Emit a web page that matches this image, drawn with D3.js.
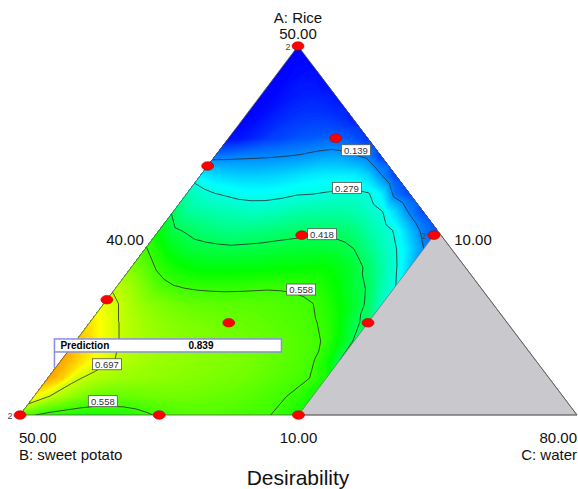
<!DOCTYPE html>
<html>
<head>
<meta charset="utf-8">
<script src="https://cdnjs.cloudflare.com/ajax/libs/d3/7.8.5/d3.min.js"></script>
<style>
  body { margin: 0; background: #fff; }
  text { font-family: "Liberation Sans", Arial, sans-serif; }
</style>
</head>
<body>
<div class="chart"></div>
<script>
// Grid rows = rice level (A, %), grid columns = water level (C, %)
// sweet potato (B) is the rest: B = 100 - A - C
var riceLevels = [10, 12, 14, 16, 18, 20, 22, 24, 26, 28, 30, 32, 34, 36, 38, 40, 42, 44, 46, 48, 50];
var waterLevels = [40, 41, 42, 43, 44, 45, 46, 47, 48, 49, 50, 51, 52, 53, 54, 55, 56, 57, 58, 59, 60];

// desirability, one row per rice level (bottom row first)
// rows above A=30 stop at the right edge of the triangle
var desirabilityGrid = [
  [0.60, 0.56, 0.54, 0.53, 0.525, 0.52, 0.52, 0.525, 0.535, 0.55, 0.565, 0.575, 0.58, 0.58, 0.58, 0.575, 0.57, 0.565, 0.558, 0.54, 0.52],
  [0.76, 0.70, 0.665, 0.635, 0.61, 0.60, 0.60, 0.60, 0.605, 0.61, 0.61, 0.61, 0.605, 0.60, 0.595, 0.59, 0.58, 0.57, 0.56, 0.545, 0.51],
  [0.84, 0.80, 0.71, 0.68, 0.665, 0.655, 0.65, 0.645, 0.64, 0.635, 0.63, 0.625, 0.62, 0.615, 0.61, 0.60, 0.59, 0.58, 0.57, 0.555, 0.52],
  [0.84, 0.80, 0.76, 0.73, 0.69, 0.67, 0.66, 0.65, 0.645, 0.64, 0.635, 0.63, 0.625, 0.62, 0.61, 0.60, 0.59, 0.58, 0.565, 0.52, 0.418],
  [0.82, 0.78, 0.74, 0.70, 0.675, 0.66, 0.65, 0.64, 0.63, 0.625, 0.62, 0.615, 0.61, 0.605, 0.60, 0.59, 0.58, 0.57, 0.55, 0.49, 0.41],
  [0.78, 0.74, 0.70, 0.675, 0.655, 0.64, 0.63, 0.62, 0.615, 0.61, 0.605, 0.60, 0.595, 0.59, 0.58, 0.575, 0.565, 0.545, 0.50, 0.43, 0.40],
  [0.73, 0.70, 0.665, 0.64, 0.625, 0.61, 0.60, 0.595, 0.59, 0.588, 0.585, 0.585, 0.58, 0.575, 0.57, 0.56, 0.535, 0.50, 0.455, 0.405, 0.30],
  [0.68, 0.654, 0.617, 0.58, 0.56, 0.55, 0.545, 0.543, 0.543, 0.545, 0.548, 0.55, 0.55, 0.548, 0.54, 0.52, 0.49, 0.445, 0.41, 0.33, 0.279],
  [0.623, 0.59, 0.545, 0.518, 0.50, 0.49, 0.487, 0.485, 0.487, 0.49, 0.492, 0.497, 0.496, 0.50, 0.50, 0.48, 0.45, 0.40, 0.34, 0.285, 0.20],
  [0.565, 0.52, 0.475, 0.45, 0.44, 0.435, 0.43, 0.433, 0.436, 0.44, 0.446, 0.45, 0.45, 0.45, 0.44, 0.418, 0.37, 0.325, 0.283, 0.215, 0.14],
  [0.49, 0.43, 0.41, 0.39, 0.38, 0.37, 0.37, 0.375, 0.38, 0.39, 0.395, 0.40, 0.40, 0.395, 0.38, 0.34, 0.31, 0.27, 0.19, 0.12, 0.08],
  [0.41, 0.35, 0.34, 0.332, 0.322, 0.317, 0.31, 0.317, 0.326, 0.335, 0.338, 0.34, 0.34, 0.33, 0.31, 0.285, 0.21, 0.13, 0.07],
  [0.336, 0.30, 0.28, 0.27, 0.26, 0.255, 0.26, 0.265, 0.275, 0.277, 0.283, 0.29, 0.295, 0.285, 0.235, 0.11, 0.07],
  [0.235, 0.215, 0.205, 0.20, 0.20, 0.205, 0.21, 0.22, 0.23, 0.235, 0.238, 0.235, 0.21, 0.139, 0.06],
  [0.12, 0.125, 0.13, 0.133, 0.136, 0.14, 0.145, 0.155, 0.165, 0.165, 0.148, 0.13, 0.06],
  [0.01, 0.02, 0.04, 0.06, 0.07, 0.085, 0.09, 0.10, 0.10, 0.08, 0.05],
  [0.0, 0.01, 0.03, 0.045, 0.055, 0.06, 0.06, 0.05, 0.03],
  [0.0, 0.005, 0.02, 0.035, 0.04, 0.035, 0.02],
  [0.0, 0.005, 0.02, 0.02, 0.01],
  [0.0, 0.005, 0.005],
  [0.0]
];

var contourLevels = [0.139, 0.279, 0.418, 0.558, 0.697];

// design points (A and C in %, B is the rest) and replicate counts
var riceDesign  = [50, 40, 37, 29.5, 29.5, 22.5, 20, 20, 10, 10, 10];
var waterDesign = [40, 47.7, 40, 50.5, 60, 40, 50, 60, 40, 50, 60];
var designReps  = [2, 1, 1, 1, 2, 1, 1, 1, 2, 1, 1];

// flagged prediction
var predictionRice = 15.1;
var predictionWater = 40;
var predictionValue = 0.839;

//Define physical space of chart
var svgWidth = 578;
var svgHeight = 489;

var svg = d3.select(".chart").append("svg")
  .attr("width", svgWidth)
  .attr("height", svgHeight);

// ternary scales: real % -> pseudo component -> pixel
var aScale = d3.scaleLinear().domain([10, 50]).range([0, 1]);
var cScale = d3.scaleLinear().domain([40, 80]).range([0, 1]);
var yScale = d3.scaleLinear().domain([0, 1]).range([415, 46]);
var xStart = d3.scaleLinear().domain([0, 1]).range([20, 298]);
var xSpan = d3.scaleLinear().domain([0, 1]).range([0, 557]);

function project(rice, water) {
  var a = aScale(rice), c = cScale(water);
  return [xStart(a) + xSpan(c), yScale(a)];
}

// grid index -> real %
var riceIndex = d3.scaleLinear().domain([0, riceLevels.length - 1]).range([riceLevels[0], riceLevels[riceLevels.length - 1]]);
var waterIndex = d3.scaleLinear().domain([0, waterLevels.length - 1]).range([waterLevels[0], waterLevels[waterLevels.length - 1]]);

var nx = waterLevels.length, ny = riceLevels.length;
var values = [];
desirabilityGrid.forEach(function(row) {
  for (var i = 0; i < nx; i++) {
    // beyond the right edge (outside the triangle, clipped away) repeat the edge value
    values.push(row[Math.min(i, row.length - 1)]);
  }
});

var gridPath = d3.geoPath(d3.geoTransform({
  point: function(u, v) {
    var p = project(riceIndex(v - 0.5), waterIndex(u - 0.5));
    this.stream.point(p[0], p[1]);
  }
}));

var color = d3.scaleLinear()
  .domain([0, 0.25, 0.5, 0.75, 1])
  .range(["#0000ff", "#00ffff", "#00ff00", "#ffff00", "#ff0000"]);

// feasible region (C <= 60)
var region = [project(50, 40), project(10, 40), project(10, 60), project(30, 60)];
var greyRegion = [project(30, 60), project(10, 60), project(10, 80)];

svg.append("clipPath").attr("id", "feasible")
  .append("polygon")
  .attr("points", region.map(p => p.join(",")).join(" "));

var plot = svg.append("g").attr("clip-path", "url(#feasible)");

// colour bands
var step = 0.005;
var bands = d3.contours().size([nx, ny]).thresholds(d3.range(0, 1, step))(values);
plot.selectAll("path.band")
  .data(bands)
  .enter()
  .append("path")
  .attr("class", "band")
  .attr("d", gridPath)
  .attr("fill", d => color(d.value + step / 2))
  .attr("stroke", "none");

// contour lines
var isolines = d3.contours().size([nx, ny]).thresholds(contourLevels)(values);
plot.selectAll("path.iso")
  .data(isolines)
  .enter()
  .append("path")
  .attr("class", "iso")
  .attr("d", gridPath)
  .attr("fill", "none")
  .attr("stroke", "#2a2a2a")
  .attr("stroke-width", 0.8);

// grey infeasible part
svg.append("polygon")
  .attr("points", greyRegion.map(p => p.join(",")).join(" "))
  .attr("fill", "#c9c8cc")
  .attr("stroke", "#777")
  .attr("stroke-width", 0.8);

// triangle outline
var outline = [project(50, 40), project(10, 40), project(10, 80)];
svg.append("polygon")
  .attr("points", outline.map(p => p.join(",")).join(" "))
  .attr("fill", "none")
  .attr("stroke", "#555")
  .attr("stroke-width", 0.8);

// contour labels, placed on the lines (rice, water)
var labelSpots = [[38.7, 49.8], [34.6, 51.2], [29.6, 51.9], [23.6, 53.4], [15.5, 43.5], [11.5, 45.2]];
var labelLevels = [0.139, 0.279, 0.418, 0.558, 0.697, 0.558];
labelSpots.forEach(function(s, i) {
  var p = project(s[0], s[1]);
  svg.append("rect")
    .attr("x", p[0] - 14.5).attr("y", p[1] - 5.5)
    .attr("width", 29).attr("height", 11)
    .attr("fill", "#fff").attr("stroke", "#555").attr("stroke-width", 0.8);
  svg.append("text")
    .attr("x", p[0]).attr("y", p[1] + 3.5)
    .attr("text-anchor", "middle")
    .style("font-size", "9.5px")
    .attr("fill", "#333")
    .text(labelLevels[i].toFixed(3));
});

// design points
riceDesign.forEach(function(r, i) {
  var p = project(r, waterDesign[i]);
  svg.append("ellipse")
    .attr("cx", p[0]).attr("cy", p[1])
    .attr("rx", 6).attr("ry", 4.3)
    .attr("fill", "#ff0000")
    .attr("stroke", "#b00000").attr("stroke-width", 0.6);
  if (designReps[i] > 1) {
    svg.append("text")
      .attr("x", p[0] - 7.5).attr("y", p[1] + 3.5)
      .attr("text-anchor", "end")
      .style("font-size", "9px")
      .attr("fill", "#444")
      .text(designReps[i]);
  }
});

// prediction flag
var pp = project(predictionRice, predictionWater);
svg.append("line")
  .attr("x1", pp[0] - 1).attr("y1", pp[1])
  .attr("x2", pp[0] - 1).attr("y2", pp[1] - 16)
  .attr("stroke", "#8c8ce6").attr("stroke-width", 1.5);
svg.append("rect")
  .attr("x", pp[0] - 1).attr("y", pp[1] - 29)
  .attr("width", 227).attr("height", 13)
  .attr("fill", "#fff")
  .attr("stroke", "#8c8ce6").attr("stroke-width", 1.5);
svg.append("text")
  .attr("x", pp[0] + 5).attr("y", pp[1] - 18.5)
  .style("font-size", "10px").style("font-weight", "bold")
  .text("Prediction");
svg.append("text")
  .attr("x", pp[0] + 133).attr("y", pp[1] - 18.5)
  .style("font-size", "10px").style("font-weight", "bold")
  .text(predictionValue.toFixed(3));

// vertex and edge labels
var topP = project(50, 40), leftP = project(10, 40), rightP = project(10, 80);
function label(x, y, txt, anchor, size) {
  svg.append("text")
    .attr("x", x).attr("y", y)
    .attr("text-anchor", anchor)
    .style("font-size", size + "px")
    .attr("fill", "#111")
    .text(txt);
}
label(topP[0], 23, "A: Rice", "middle", 15);
label(topP[0], 39, "50.00", "middle", 15);
label(125, 245, "40.00", "middle", 15);
label(473, 245, "10.00", "middle", 15);
label(leftP[0] - 1, 443, "50.00", "start", 15);
label(leftP[0] - 1, 460, "B: sweet potato", "start", 15);
label(project(10, 60)[0], 443, "10.00", "middle", 15);
label(rightP[0], 443, "80.00", "end", 15);
label(rightP[0], 460, "C: water", "end", 15);
label(298, 485, "Desirability", "middle", 21);
</script>
</body>
</html>
